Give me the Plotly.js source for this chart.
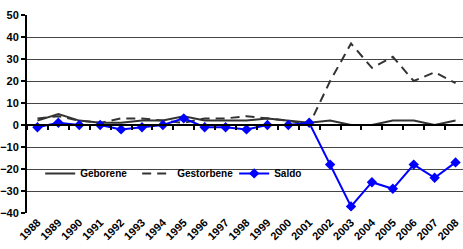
<!DOCTYPE html>
<html>
<head>
<meta charset="utf-8">
<script src="https://cdn.plot.ly/plotly-3.0.1.min.js"></script>
<style>
html,body{margin:0;padding:0;overflow:hidden;background:#fff;}
#chart{width:470px;height:249px;}
</style>
</head>
<body>
<div id="chart"></div>
<script>
var years = ['1988','1989','1990','1991','1992','1993','1994','1995','1996','1997','1998','1999','2000','2001','2002','2003','2004','2005','2006','2007','2008'];
var geborene   = [2, 5, 2, 1, 1, 2, 2, 4, 2, 2, 2, 3, 2, 1, 2, 0, 0, 2, 2, 0, 2];
var gestorbene = [3, 4, 2, 1, 3, 3, 2, 1, 3, 3, 4, 3, 2, 0, 20, 37, 26, 31, 20, 24, 19];
var saldo      = [-1, 1, 0, 0, -2, -1, 0, 3, -1, -1, -2, 0, 0, 1, -18, -37, -26, -29, -18, -24, -17];
var yTicks = [-40, -30, -20, -10, 0, 10, 20, 30, 40, 50];

var fam = 'Liberation Sans, Arial, sans-serif';

var traces = [
  {x: years, y: geborene, name: 'Geborene', type: 'scatter', mode: 'lines',
   line: {color: '#333333', width: 2}},
  {x: years, y: gestorbene, name: 'Gestorbene', type: 'scatter', mode: 'lines',
   line: {color: '#333333', width: 2, dash: '9px,6px'}},
  {x: years, y: saldo, name: 'Saldo', type: 'scatter', mode: 'lines+markers',
   line: {color: '#0000ff', width: 2},
   marker: {symbol: 'diamond', size: 8, color: '#0000ff'}},
  {x: years, y: saldo, xaxis: 'x2', type: 'scatter', mode: 'lines', showlegend: false,
   hoverinfo: 'skip', line: {width: 0}, opacity: 0}
];

var layout = {
  width: 470, height: 249,
  margin: {l: 27, r: 4, t: 15, b: 36},
  paper_bgcolor: '#fff', plot_bgcolor: '#fff',
  font: {family: fam, size: 10, color: '#000', weight: 'bold'},
  showlegend: true,
  legend: {orientation: 'h', x: 0.03, y: 0.2, xanchor: 'left', yanchor: 'middle',
           bgcolor: 'rgba(0,0,0,0)', font: {family: fam, size: 10, weight: 'bold', color: '#000'},
           itemwidth: 30, entrywidth: 52},
  xaxis: {type: 'category', range: [-0.5, 20.5], showgrid: false, zeroline: false,
          showline: false, ticks: '', tickangle: -45,
          tickfont: {family: fam, size: 11, weight: 'bold', color: '#000'}},
  xaxis2: {type: 'category', overlaying: 'x', anchor: 'free', position: 40/90,
           range: [-0.5, 20.5], showgrid: false, zeroline: false, showticklabels: false,
           showline: true, linecolor: '#000', linewidth: 2,
           ticks: 'outside', ticklen: 4, tickcolor: '#000', tickwidth: 2, tickson: 'boundaries'},
  yaxis: {range: [-40, 50], tickvals: yTicks, showgrid: true, gridcolor: '#444', gridwidth: 1,
          zeroline: false, showline: true, linecolor: '#000', linewidth: 2,
          ticks: 'outside', ticklen: 4, tickcolor: '#000', tickwidth: 2,
          tickfont: {family: fam, size: 11, weight: 'bold', color: '#000'}},
  shapes: [{type: 'rect', xref: 'paper', yref: 'paper', x0: 0.0296, x1: 0.663, y0: 0.066, y1: 0.318,
            fillcolor: '#fff', line: {width: 0}, layer: 'between'}]
};

Plotly.newPlot('chart', traces, layout, {displayModeBar: false, staticPlot: true});
</script>
</body>
</html>
